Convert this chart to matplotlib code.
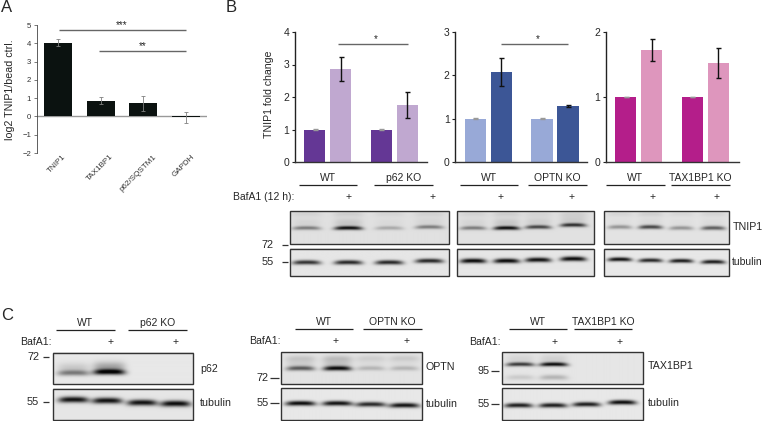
# figure with bar charts and western blots, panel A B C
import matplotlib
matplotlib.use("Agg")
import matplotlib.pyplot as plt
from matplotlib.patches import Rectangle
from matplotlib.transforms import ScaledTranslation
import numpy as np

plt.rcParams['font.family'] = ['Liberation Sans', 'DejaVu Sans']

W, H = 763, 421
TXT = '#262626'

# panel A
a_names = ['TNIP1', 'TAX1BP1', 'p62/SQSTM1', 'GAPDH']
a_vals = [4.03, 0.87, 0.72, -0.05]
a_err = [0.18, 0.2, 0.4, 0.3]

# panel B
b1_vals = [1, 2.87, 1, 1.76]
b1_err = [0.008, 0.37, 0.008, 0.4]
b2_vals = [1, 2.08, 1, 1.3]
b2_err = [0.008, 0.33, 0.008, 0.02]
b3_vals = [1, 1.72, 1, 1.52]
b3_err = [0.005, 0.17, 0.005, 0.23]

# band strength per lane, read by eye from the blots
tnip1_p62 = [0.45, 0.95, 0.25, 0.45]
tub_p62 = [0.8, 0.85, 0.85, 0.85]
tnip1_optn = [0.45, 0.95, 0.7, 0.8]
tub_optn = [0.98, 0.98, 0.95, 0.98]
tnip1_tax = [0.35, 0.7, 0.35, 0.6]
tub_tax = [0.95, 0.85, 0.9, 0.9]
tnip1_top = [0.06, 0.08, 0.05, 0.06]
c_p62 = [0.45, 0.98, 0.0, 0.0]
c_p62_tub = [0.95, 0.95, 0.95, 0.98]
c_optn = [0.6, 0.95, 0.2, 0.2]
c_optn_top = [0.1, 0.12, 0.08, 0.1]
c_optn_tub = [0.98, 0.95, 0.85, 0.95]
c_tax = [0.75, 0.95, 0.0, 0.0]
c_tax_low = [0.12, 0.22, 0.0, 0.0]
c_tax_tub = [0.9, 0.9, 0.9, 0.98]

fig = plt.figure(figsize=(W / 100, H / 100), dpi=100)

# overlay in pixel units for labels and blots
ov = fig.add_axes([0, 0, 1, 1], zorder=5)
ov.set_xlim(0, W)
ov.set_ylim(H, 0)
ov.axis('off')


def px_axes(x0, x1, top, bottom):
    ax = fig.add_axes([x0 / W, 1 - bottom / H, (x1 - x0) / W, (bottom - top) / H])
    ax.patch.set_alpha(0)
    ax.spines['top'].set_visible(False)
    ax.spines['right'].set_visible(False)
    return ax


def label(x, y, s, size=7.5, ha='center', color=TXT):
    ov.text(x, y, s, fontsize=size, ha=ha, va='center', color=color)


def under(x0, x1, y, name, tx=None):
    ov.plot([x0, x1], [y, y], color='#222222', lw=0.9, solid_capstyle='butt')
    label((x0 + x1) / 2 if tx is None else tx, y - 7, name)


def sig(x0, x1, y, s, sx):
    ov.plot([x0, x1], [y, y], color='#666666', lw=1.0, solid_capstyle='butt')
    label(sx, y - 5, s, size=7)


def mw(x0, x1, tx, y, s):
    ov.plot([x0, x1], [y, y], color='#333333', lw=0.9, solid_capstyle='butt')
    label(tx, y, s, size=7.8)


def bars(x0, x1, vals, err, cols, ymax):
    ax = px_axes(x0, x1, 32, 162)
    pos = [0, 1, 2.56, 3.56]
    ax.bar(pos, vals, width=0.82, color=cols)
    # control bars have almost no spread, their cap is a grey hairline
    for p, v, e in zip(pos, vals, err):
        ecol = '#999999' if e < 0.01 else '#111111'
        ax.errorbar(p, v, yerr=e, ecolor=ecol, elinewidth=1.0, capthick=1.0, capsize=1.8)
    ax.set_xlim(-0.385 - 10.0 / 26, -0.385 - 10.0 / 26 + (x1 - x0) / 26.0)
    ax.set_ylim(0, ymax)
    ax.set_yticks(range(ymax + 1))
    ax.set_xticks([])
    ax.spines['left'].set_linewidth(1.0)
    ax.spines['bottom'].set_linewidth(1.0)
    ax.spines['left'].set_color('#222222')
    ax.spines['bottom'].set_color('#333333')
    ax.tick_params(axis='y', length=2.5, width=0.8, labelsize=7.5, pad=1.5,
                   labelcolor=TXT, color='#222222')
    return ax


def blot(x0, x1, y0, y1, rows, bg=0.9, bow=0.5):
    # one membrane strip as an image, rows = (lanes, strengths, ys, sx, sy, smear)
    xx, yy = np.meshgrid(np.arange(x0, x1, 0.5), np.arange(y0, y1, 0.5))
    ink = np.zeros(xx.shape)
    for lanes, vals, ys, sx, sy, smear in rows:
        for lx, v, ly in zip(lanes, vals, ys):
            u = (xx - lx) / sx
            across = np.exp(-u ** 4)
            ink += v * across * np.exp(-((yy - ly - bow * u ** 2) / sy) ** 2)
            if smear > 0:
                ink += smear * v * across * np.exp(-((yy - ly + 5) / 5.0) ** 2)
    img = bg * (1 - np.clip(ink, 0, 1) * 0.98)
    ov.imshow(img, extent=[x0, x1, y1, y0], cmap='gray', vmin=0, vmax=1,
              aspect='auto', interpolation='bilinear', zorder=1)
    ov.add_patch(Rectangle((x0, y0), x1 - x0, y1 - y0, fill=False,
                           ec='#333333', lw=1.0, zorder=2))


# --- panel A
ax = px_axes(36.7, 207, 25, 153)
ax.bar(range(4), a_vals, width=0.66, color='#0b1210', yerr=a_err, capsize=1.2,
       error_kw=dict(ecolor='#808080', elinewidth=0.6, capthick=0.6))
ax.axhline(0, color='#999999', lw=1.0, zorder=0)
ax.set_xlim(-0.5, 3.5)
ax.set_ylim(-2, 5)
ax.set_yticks(range(-2, 6))
ax.spines['bottom'].set_visible(False)
ax.spines['left'].set_linewidth(0.6)
ax.spines['left'].set_color('#444444')
ax.tick_params(axis='y', length=2, width=0.5, labelsize=5.6, pad=2,
               labelcolor='#333333', color='#444444')
ax.set_xticks(range(4))
ax.set_xticklabels(a_names, rotation=45, ha='right', rotation_mode='anchor',
                   fontsize=5.8, color='#333333')
ax.tick_params(axis='x', length=0, pad=0)
# labels sit a little right of their bars in the original
for t, dx in zip(ax.get_xticklabels(), [4, 9, 10, 5]):
    t.set_transform(t.get_transform() + ScaledTranslation(dx / 100, 0, fig.dpi_scale_trans))
ov.text(10, 90, 'log2 TNIP1/bead ctrl.', fontsize=7.7, rotation=90, ha='center',
        va='center', color=TXT)
sig(59, 186, 30.3, '***', 122)
sig(99, 186, 50.7, '**', 143)
for s, x, y in [('A', 1, 8), ('B', 226, 7), ('C', 1, 315)]:
    label(x, y, s, size=12, ha='left')

# --- panel B charts
ax = bars(294.7, 427, b1_vals, b1_err, ['#643795', '#c0a8d0'] * 2, 4)
ov.text(268.5, 94, 'TNIP1 fold change', fontsize=7.6, rotation=90, ha='center',
        va='center', color=TXT)
bars(455.3, 587.3, b2_vals, b2_err, ['#98a9d7', '#3c5696'] * 2, 3)
bars(605.7, 738.7, b3_vals, b3_err, ['#b41e8a', '#de96bd'] * 2, 2)
sig(338.3, 408.3, 43.7, '*', 376)
sig(500.7, 568.3, 43.7, '*', 537.3)

under(298.7, 357.3, 185, 'WT')
under(374.3, 432.7, 185, 'p62 KO')
under(459.7, 518.3, 185, 'WT')
under(528, 586.7, 185, 'OPTN KO')
under(606, 664.7, 185, 'WT')
under(671.3, 730, 185, 'TAX1BP1 KO', tx=700.7)
label(232.7, 197, 'BafA1 (12 h):', size=7.5, ha='left')
for x in [348.7, 432.7, 500.7, 571.7, 652.3, 716.7]:
    label(x, 197, '+', size=7.5)

# --- panel B blots
lanes = [306.7, 348.3, 389, 429]
blot(290.3, 448.7, 211.3, 244.3,
     [(lanes, tnip1_p62, [228, 228, 228, 227], 14, 1.9, 0.12),
      (lanes, tnip1_top, [214, 214, 214, 214], 15, 2.5, 0)], bg=0.88)
blot(290.3, 448.7, 248.7, 276,
     [(lanes, tub_p62, [262.5, 262.5, 262.5, 261], 14, 2.2, 0)], bg=0.9)
lanes = [473.3, 506.7, 538.3, 573.3]
blot(457.3, 594.3, 211.3, 244.3,
     [(lanes, tnip1_optn, [228, 228, 227, 225], 13, 1.9, 0.12),
      (lanes, tnip1_top, [214, 214, 214, 214], 14, 2.5, 0)], bg=0.88)
blot(457.3, 594.3, 248.7, 276,
     [(lanes, tub_optn, [261, 261, 260, 259], 13, 2.3, 0)], bg=0.9)
lanes = [619.3, 650, 680.7, 712.7]
blot(603.7, 729.3, 211.3, 244.3,
     [(lanes, tnip1_tax, [227, 227, 228, 228], 12, 2.0, 0.06),
      (lanes, tnip1_top, [214, 214, 214, 214], 13, 2.5, 0)], bg=0.89)
blot(603.7, 729.3, 248.7, 276,
     [(lanes, tub_tax, [259.5, 260.5, 261, 262], 12, 2.0, 0)], bg=0.91)
mw(282, 288.3, 268, 245, '72')
mw(282, 288.3, 268, 262.3, '55')
label(733, 227, 'TNIP1', size=7.7, ha='left')
label(732, 262, 'tubulin', size=7.5, ha='left')

# --- panel C
under(56, 114.7, 329.7, 'WT')
under(128.3, 186.7, 329.7, 'p62 KO')
label(20, 342.3, 'BafA1:', size=7.6, ha='left')
for x in [111, 176]:
    label(x, 342.3, '+', size=7.5)
lanes = [73, 108.7, 141, 175]
blot(52.7, 193.3, 352.7, 384,
     [(lanes, c_p62, [373, 372, 372, 372], 16, 2.8, 0.3)], bg=0.91)
blot(52.7, 193.3, 388.7, 420.3,
     [([73, 106.7, 141.7, 175], c_p62_tub, [400, 401, 403, 404], 15, 3.0, 0)], bg=0.9)
mw(42.7, 49, 33, 356.7, '72')
mw(42.7, 49, 33, 401.7, '55')
label(200, 369.3, 'p62', size=7.7, ha='left')
label(200, 402.7, 'tubulin', size=7.7, ha='left')

under(294.7, 353.3, 329.3, 'WT')
under(363.3, 421.7, 329.3, 'OPTN KO')
label(249, 341.3, 'BafA1:', size=7.6, ha='left')
for x in [335.7, 407]:
    label(x, 341.3, '+', size=7.5)
lanes = [300, 336.7, 370, 403.3]
blot(280.7, 422, 352, 383.7,
     [(lanes, c_optn, [368, 368, 368, 368], 14, 2.3, 0.15),
      (lanes, c_optn_top, [358, 358, 358, 358], 15, 3, 0)], bg=0.89)
blot(280.7, 422, 388, 420,
     [(lanes, c_optn_tub, [403, 403, 404, 405], 15, 2.4, 0)], bg=0.91)
mw(270, 278.7, 262.7, 378.3, '72')
mw(270, 278.7, 262.7, 403.3, '55')
label(426, 367.3, 'OPTN', size=7.7, ha='left')
label(426, 404.3, 'tubulin', size=7.7, ha='left')

under(509, 567.3, 329.3, 'WT')
under(574, 632.3, 329.3, 'TAX1BP1 KO', tx=603)
label(468.7, 342, 'BafA1:', size=7.6, ha='left')
for x in [555, 619.3]:
    label(x, 342, '+', size=7.5)
lanes = [519.7, 553, 586, 620]
blot(501.7, 643, 352, 384,
     [(lanes, c_tax, [364, 364, 364, 364], 14, 2.0, 0.1),
      (lanes, c_tax_low, [377, 377, 377, 377], 14, 2.6, 0)], bg=0.9)
blot(501.7, 643, 388, 420,
     [([518, 552.3, 585.7, 621.3], c_tax_tub, [405, 405, 404, 402], 14, 2.3, 0)], bg=0.91)
mw(490.7, 499, 483.3, 371, '95')
mw(490.7, 499, 483.3, 404, '55')
label(648, 366, 'TAX1BP1', size=7.7, ha='left')
label(648, 402.7, 'tubulin', size=7.7, ha='left')

ov.set_xlim(0, W)
ov.set_ylim(H, 0)
fig.savefig('out.png', dpi=100)
